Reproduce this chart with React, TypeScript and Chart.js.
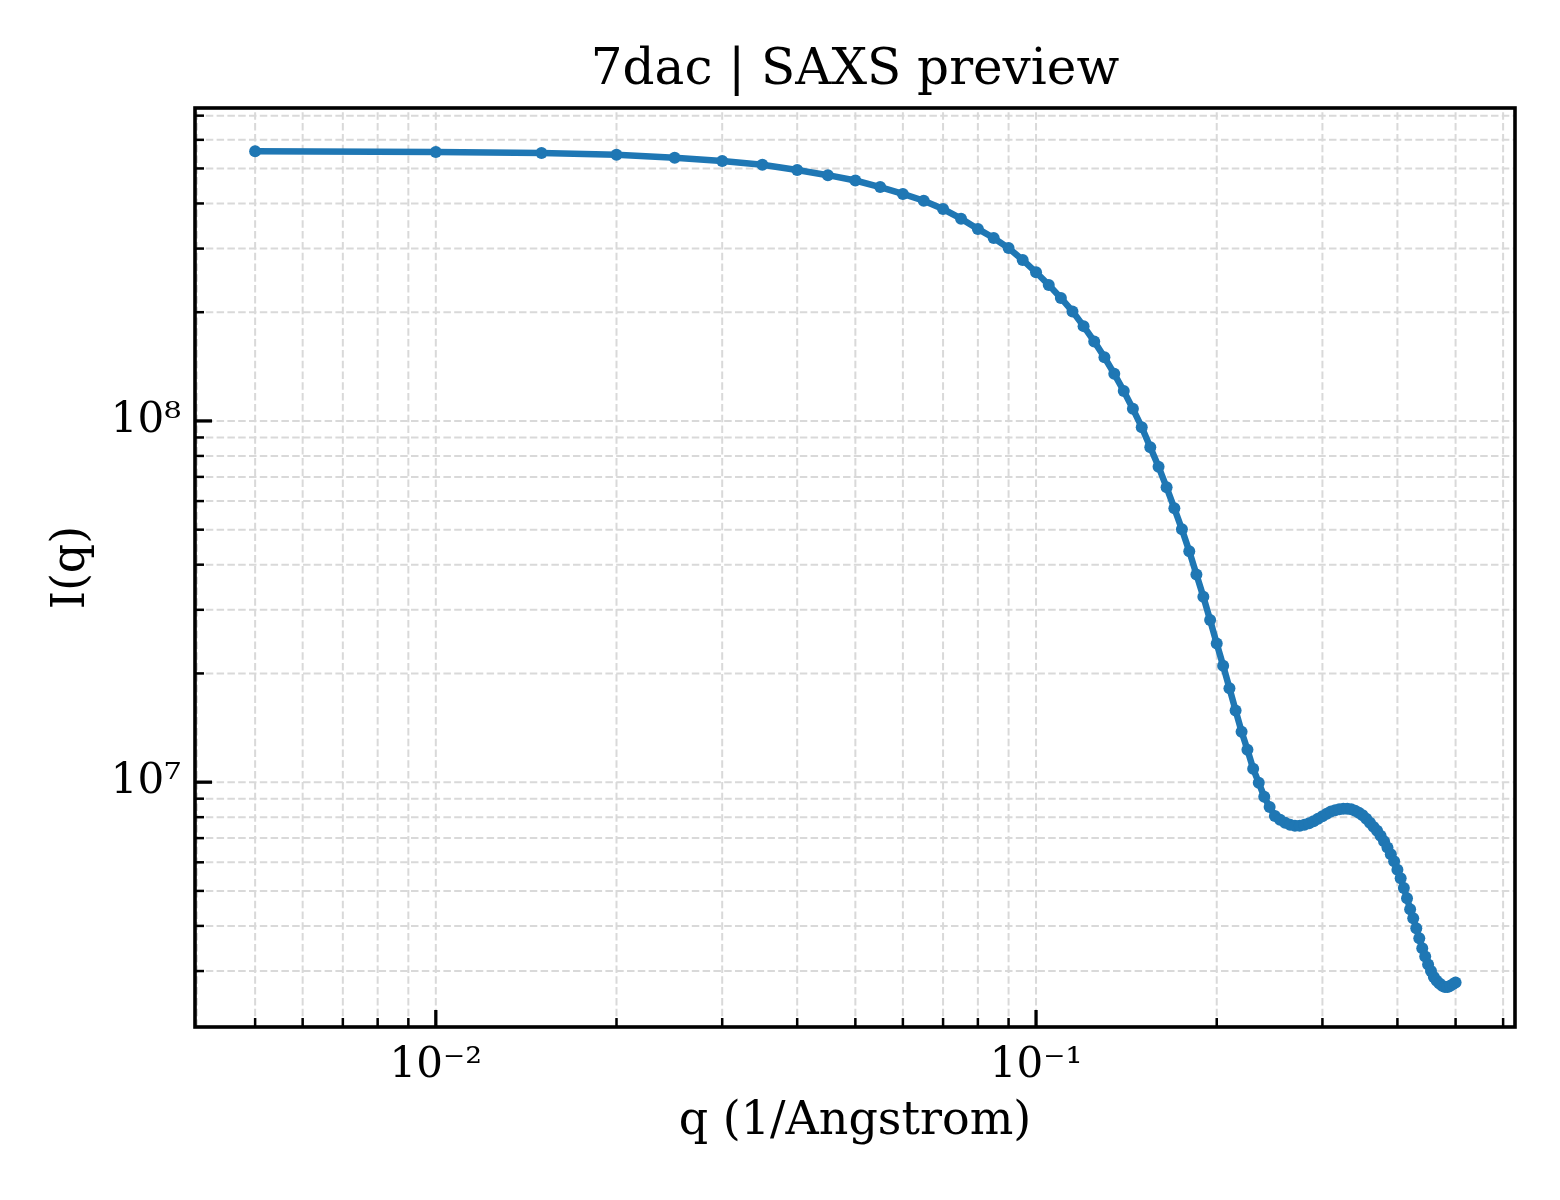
import React, { useEffect, useRef } from 'react';
import { Chart, registerables } from 'chart.js';

Chart.register(...registerables);

// scattering vector q (1/Angstrom)
const qValues = [
  0.005, 0.01, 0.015, 0.02, 0.025, 0.03, 0.035, 0.04, 0.045, 0.05,
  0.055, 0.06, 0.065, 0.07, 0.075, 0.08, 0.085, 0.09, 0.095, 0.1,
  0.105, 0.11, 0.115, 0.12, 0.125, 0.13, 0.135, 0.14, 0.145, 0.15,
  0.155, 0.16, 0.165, 0.17, 0.175, 0.18, 0.185, 0.19, 0.195, 0.2,
  0.205, 0.21, 0.215, 0.22, 0.225, 0.23, 0.235, 0.24, 0.245, 0.25,
  0.255, 0.26, 0.265, 0.27, 0.275, 0.28, 0.285, 0.29, 0.295, 0.3,
  0.305, 0.31, 0.315, 0.32, 0.325, 0.33, 0.335, 0.34, 0.345, 0.35,
  0.355, 0.36, 0.365, 0.37, 0.375, 0.38, 0.385, 0.39, 0.395, 0.4,
  0.405, 0.41, 0.415, 0.42, 0.425, 0.43, 0.435, 0.44, 0.445, 0.45,
  0.455, 0.46, 0.465, 0.47, 0.475, 0.48, 0.485, 0.49, 0.495, 0.5,
];

// I(q)
const intensity = [
  5.58e8, 5.55e8, 5.52e8, 5.46e8, 5.35e8, 5.24e8, 5.12e8, 4.95e8, 4.79e8, 4.63e8,
  4.44e8, 4.25e8, 4.07e8, 3.86e8, 3.63e8, 3.40e8, 3.21e8, 3.01e8, 2.79e8, 2.58e8,
  2.38e8, 2.19e8, 2.01e8, 1.83e8, 1.66e8, 1.50e8, 1.35e8, 1.21e8, 1.08e8, 9.61e7,
  8.46e7, 7.47e7, 6.55e7, 5.73e7, 5.01e7, 4.36e7, 3.76e7, 3.26e7, 2.81e7, 2.42e7,
  2.10e7, 1.82e7, 1.58e7, 1.38e7, 1.23e7, 1.09e7, 9.96e6, 9.11e6, 8.54e6, 8.06e6,
  7.87e6, 7.72e6, 7.62e6, 7.57e6, 7.57e6, 7.62e6, 7.70e6, 7.80e6, 7.92e6, 8.05e6,
  8.18e6, 8.29e6, 8.36e6, 8.42e6, 8.44e6, 8.44e6, 8.42e6, 8.34e6, 8.23e6, 8.10e6,
  7.92e6, 7.72e6, 7.52e6, 7.34e6, 7.11e6, 6.86e6, 6.59e6, 6.32e6, 6.04e6, 5.72e6,
  5.42e6, 5.09e6, 4.77e6, 4.45e6, 4.20e6, 3.94e6, 3.70e6, 3.47e6, 3.29e6, 3.13e6,
  3.00e6, 2.89e6, 2.82e6, 2.77e6, 2.73e6, 2.71e6, 2.71e6, 2.73e6, 2.76e6, 2.79e6,
];

const xMajorTicks = [0.01, 0.1];
const xMajorLabels = ['10⁻²', '10⁻¹'];
const xMinorTicks = [
  0.004, 0.005, 0.006, 0.007, 0.008, 0.009,
  0.02, 0.03, 0.04, 0.05, 0.06, 0.07, 0.08, 0.09,
  0.2, 0.3, 0.4, 0.5, 0.6,
];

const yMajorTicks = [1e7, 1e8];
const yMajorLabels = ['10⁷', '10⁸'];
const yMinorTicks = [
  3e6, 4e6, 5e6, 6e6, 7e6, 8e6, 9e6,
  2e7, 3e7, 4e7, 5e7, 6e7, 7e7, 8e7, 9e7,
  2e8, 3e8, 4e8, 5e8, 6e8, 7e8,
];

const FONT = "'DejaVu Serif', serif";
const LINE_COLOR = '#1f77b4';

const tickList = (major: number[], minor: number[]) =>
  [...major.map((v) => ({ value: v, major: true })), ...minor.map((v) => ({ value: v, major: false }))]
    .sort((a, b) => a.value - b.value);

const labelFor = (value: number, majors: number[], labels: string[]) => {
  const i = majors.findIndex((m) => Math.abs(value - m) / m < 1e-9);
  return i >= 0 ? labels[i] : '';
};

// grid lines under the data, frame + inward ticks on top (matplotlib look)
const mplAxes = {
  id: 'mplAxes',
  beforeDatasetsDraw(chart: any) {
    const { ctx, chartArea } = chart;
    const { left, right, top, bottom } = chartArea;
    const xs = chart.scales.x;
    const ys = chart.scales.y;
    ctx.save();
    ctx.strokeStyle = '#d9d9d9';
    ctx.lineWidth = 2;
    ctx.setLineDash([7.5, 3.3]);
    xs.ticks.forEach((t: any) => {
      const px = xs.getPixelForValue(t.value);
      if (px < left || px > right) return;
      ctx.beginPath();
      ctx.moveTo(px, bottom);
      ctx.lineTo(px, top);
      ctx.stroke();
    });
    ys.ticks.forEach((t: any) => {
      const py = ys.getPixelForValue(t.value);
      if (py < top || py > bottom) return;
      ctx.beginPath();
      ctx.moveTo(left, py);
      ctx.lineTo(right, py);
      ctx.stroke();
    });
    ctx.restore();
  },
  afterDraw(chart: any) {
    const { ctx, chartArea } = chart;
    const { left, right, top, bottom } = chartArea;
    const xs = chart.scales.x;
    const ys = chart.scales.y;
    ctx.save();
    ctx.strokeStyle = '#000';
    ctx.setLineDash([]);
    xs.ticks.forEach((t: any) => {
      const px = xs.getPixelForValue(t.value);
      if (px < left + 2 || px > right - 2) return;
      ctx.lineWidth = t.major ? 3.3 : 2.5;
      ctx.beginPath();
      ctx.moveTo(px, bottom);
      ctx.lineTo(px, bottom - (t.major ? 17 : 9));
      ctx.stroke();
    });
    ys.ticks.forEach((t: any) => {
      const py = ys.getPixelForValue(t.value);
      if (py < top + 2 || py > bottom - 2) return;
      ctx.lineWidth = t.major ? 3.3 : 2.5;
      ctx.beginPath();
      ctx.moveTo(left, py);
      ctx.lineTo(left + (t.major ? 17 : 9), py);
      ctx.stroke();
    });
    ctx.lineWidth = 3.6;
    ctx.strokeRect(left, top, right - left, bottom - top);
    ctx.restore();
  },
};

const SaxsChart: React.FC = () => {
  const canvasRef = useRef<HTMLCanvasElement>(null);
  const chartRef = useRef<Chart | null>(null);

  useEffect(() => {
    document.body.style.margin = '0';
    if (!canvasRef.current) return;
    if (chartRef.current) chartRef.current.destroy();

    chartRef.current = new Chart(canvasRef.current, {
      type: 'line',
      data: {
        datasets: [
          {
            label: 'I(q)',
            data: qValues.map((q, i) => ({ x: q, y: intensity[i] })),
            borderColor: LINE_COLOR,
            backgroundColor: LINE_COLOR,
            borderWidth: 6.5,
            pointRadius: 6,
            pointBackgroundColor: LINE_COLOR,
            pointBorderWidth: 0,
            tension: 0,
            fill: false,
          },
        ],
      },
      options: {
        animation: false,
        responsive: true,
        maintainAspectRatio: false,
        devicePixelRatio: 1,
        layout: { padding: { left: 0, right: 45, top: 0, bottom: 0 } },
        plugins: {
          legend: { display: false },
          tooltip: { enabled: false },
          title: {
            display: true,
            fullSize: false,
            text: '7dac | SAXS preview',
            color: '#000',
            font: { family: FONT, size: 50, weight: 'normal' },
            padding: { top: 41, bottom: 7 },
          },
        },
        scales: {
          x: {
            type: 'logarithmic',
            min: 0.00397,
            max: 0.628,
            afterBuildTicks: (s: any) => {
              s.ticks = tickList(xMajorTicks, xMinorTicks);
            },
            afterFit: (s: any) => {
              s.height = 173;
            },
            grid: { display: false, drawTicks: false },
            border: { display: false },
            ticks: {
              autoSkip: false,
              maxRotation: 0,
              padding: 14,
              color: '#000',
              font: { family: FONT, size: 42 },
              callback: (v: any) => labelFor(Number(v), xMajorTicks, xMajorLabels),
            },
            title: {
              display: true,
              text: 'q (1/Angstrom)',
              color: '#000',
              font: { family: FONT, size: 46 },
              padding: { top: 0, bottom: 50 },
            },
          },
          y: {
            type: 'logarithmic',
            min: 2.1e6,
            max: 7.35e8,
            afterBuildTicks: (s: any) => {
              s.ticks = tickList(yMajorTicks, yMinorTicks);
            },
            afterFit: (s: any) => {
              s.width = 195;
            },
            grid: { display: false, drawTicks: false },
            border: { display: false },
            ticks: {
              autoSkip: false,
              padding: 14,
              color: '#000',
              font: { family: FONT, size: 42 },
              callback: (v: any) => labelFor(Number(v), yMajorTicks, yMajorLabels),
            },
            title: {
              display: true,
              text: 'I(q)',
              color: '#000',
              font: { family: FONT, size: 46 },
              padding: { top: 44, bottom: 0 },
            },
          },
        },
      },
      plugins: [mplAxes],
    });

    return () => {
      if (chartRef.current) {
        chartRef.current.destroy();
        chartRef.current = null;
      }
    };
  }, []);

  return (
    <div style={{ position: 'relative', width: 1560, height: 1200, background: '#fff' }}>
      <canvas ref={canvasRef}></canvas>
    </div>
  );
};

export default function App() {
  return <SaxsChart />;
}
